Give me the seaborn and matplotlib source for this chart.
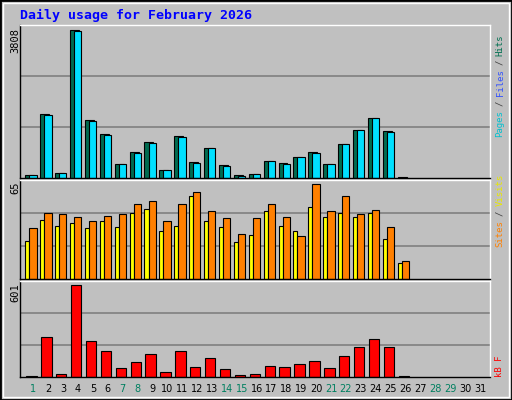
import matplotlib
matplotlib.use("Agg")
import matplotlib.pyplot as plt
from matplotlib.patches import Rectangle
import numpy as np
import seaborn as sns

days = list(range(1, 32))
weekend_days = [1, 7, 8, 14, 15, 21, 22, 28, 29]

# values (days 27-31 have no data)
hits = [69, 1637, 138, 3808, 1482, 1120, 370, 655, 913, 215, 1068, 422, 758, 345,
        86, 112, 448, 396, 526, 655, 370, 862, 1223, 1534, 1196, 30]
files = [69, 1611, 138, 3782, 1456, 1094, 370, 629, 887, 215, 1042, 396, 758, 319,
         60, 112, 448, 370, 526, 629, 370, 862, 1223, 1534, 1172, 0]
visits = [26.1, 40.3, 36, 38.2, 34.6, 39.6, 35.3, 45.2, 48, 33.2, 36, 56.5, 39.6, 35.3,
          25.4, 30.4, 46.6, 36, 33.2, 49.5, 42.4, 45.2, 42.4, 45.2, 27.5, 11.3]
sites = [34.6, 45.2, 44.5, 42.4, 39.6, 43.1, 44.5, 51.6, 53.7, 39.6, 51.6, 59.3, 46.6, 41.7,
         31.1, 41.7, 51.6, 42.4, 29.7, 65, 46.6, 56.5, 44.5, 47.3, 35.3, 12]
kbytes = [4, 259, 22, 601, 232, 173, 61, 101, 147, 35, 167, 68, 121, 55,
          15, 22, 75, 68, 88, 107, 61, 140, 193, 246, 193, 4]

BG = "#c0c0c0"
sns.set_theme(style="white", rc={"axes.facecolor": BG, "figure.facecolor": BG})
plt.rcParams["font.family"] = ["DejaVu Sans Mono", "DejaVu Sans"]

W, H = 512, 400
fig = plt.figure(figsize=(W / 100, H / 100), dpi=100)


def add_panel(top, bottom):
    return fig.add_axes([20 / W, 1 - bottom / H, 470 / W, (bottom - top) / H])


def style(ax, ymax):
    ax.set_xlim(0.11, 31.67)
    ax.set_ylim(0, ymax)
    for g in (ymax / 3, 2 * ymax / 3):
        ax.axhline(g, color="#808080", lw=1.2, zorder=0)
    ax.set_xticks([])
    ax.set_yticks([])
    for s in ("top", "right"):
        ax.spines[s].set_color("white")
    for s in ("left", "bottom"):
        ax.spines[s].set_color("black")
    for s in ax.spines.values():
        s.set_linewidth(1)


n = len(hits)
x = np.array(days[:n], dtype=float)

ax1 = add_panel(25, 178)
ax1.bar(x - 0.53, hits, width=0.6, align="edge", color="#006b50", edgecolor="black", lw=0.8)
ax1.bar(x - 0.26, files, width=0.49, align="edge", color="#00e0ff", edgecolor="black", lw=0.8)
style(ax1, 3924)

ax2 = add_panel(180, 279)
ax2.bar(x - 0.53, visits, width=0.27, align="edge", color="#ffff00", edgecolor="black", lw=0.8)
ax2.bar(x - 0.26, sites, width=0.49, align="edge", color="#ff8000", edgecolor="black", lw=0.8)
style(ax2, 67.8)

ax3 = add_panel(281, 377)
ax3.bar(x - 0.47, kbytes, width=0.7, align="edge", color="#ff0000", edgecolor="black", lw=0.8)
style(ax3, 627)

# title and max labels
fig.text(20 / W, 1 - 15 / H, "Daily usage for February 2026", color="#0000ff",
         fontsize=9.5, fontweight="bold", va="center", ha="left")
for label, ytop in (("3808", 28), ("65", 181), ("601", 283)):
    fig.text(15 / W, 1 - ytop / H, label, rotation=90, fontsize=7.5,
             va="top", ha="center", color="black")

# right-hand legends, read bottom to top
def side_label(parts, ybottom):
    y = ybottom
    for txt, col in parts:
        fig.text(500 / W, 1 - y / H, txt, rotation=90, fontsize=6.5, color=col,
                 va="bottom", ha="center")
        y -= len(txt) * 5.45 + 4

side_label([("Pages", "#00c0d0"), ("/", "#404040"), ("Files", "#3050ff"),
            ("/", "#404040"), ("Hits", "#007050")], 137)
side_label([("Sites", "#ff8000"), ("/", "#404040"), ("Visits", "#e8e800")], 247)
side_label([("kB F", "#ff0000")], 377)

for d in days:
    xp = 18.4 + 14.89 * d
    fig.text(xp / W, 1 - 389 / H, str(d), fontsize=7, ha="center", va="center",
             family="DejaVu Sans", color="#008060" if d in weekend_days else "black")

# frame
fig.patches.append(Rectangle((0, 0), 1, 1, transform=fig.transFigure, fill=False,
                             edgecolor="black", lw=2))
fig.patches.append(Rectangle((3 / W, 3 / H), 1 - 6 / W, 1 - 6 / H, transform=fig.transFigure,
                             fill=False, edgecolor="white", lw=1))

fig.savefig("out.png", dpi=100, facecolor=BG)
